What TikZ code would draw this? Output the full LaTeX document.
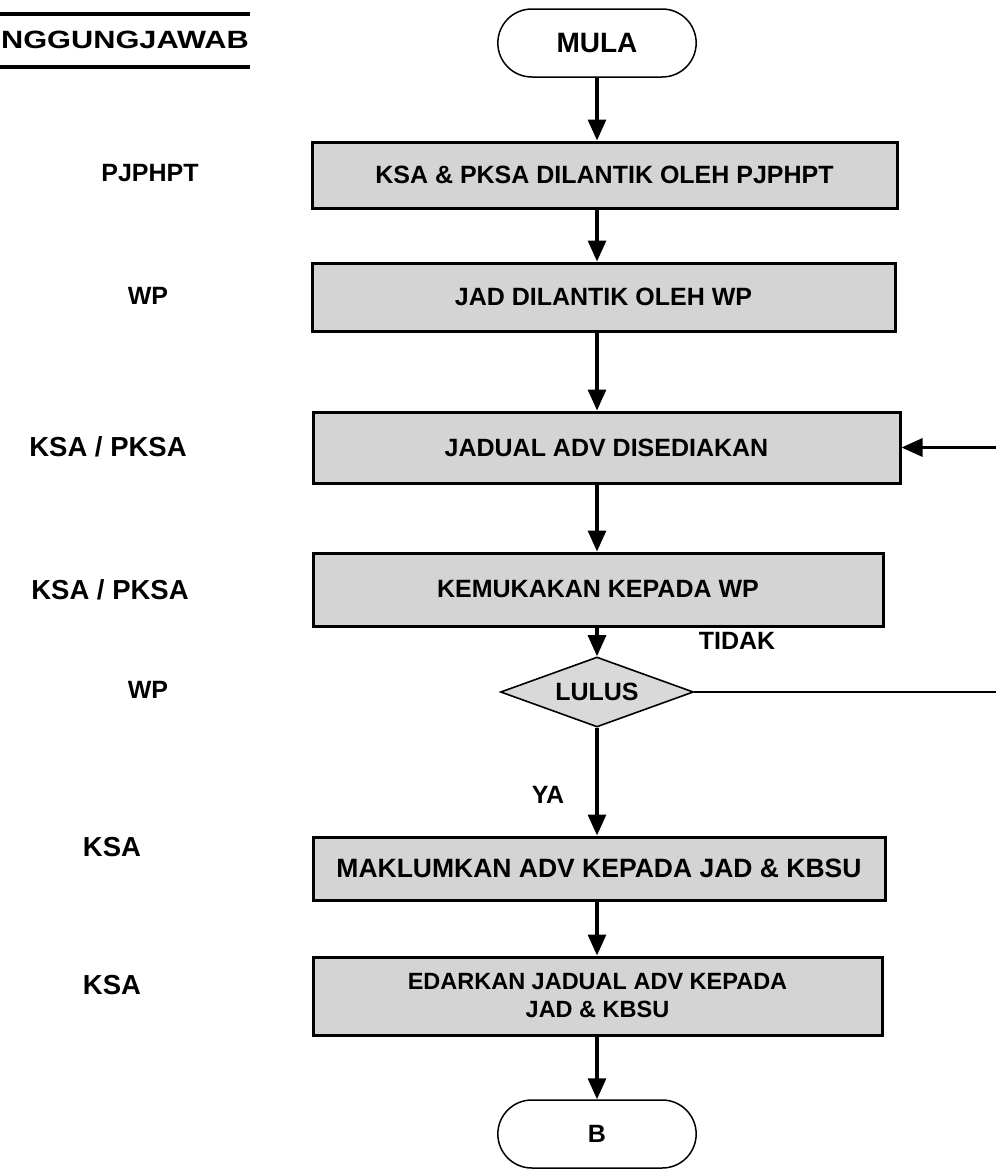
\documentclass[tikz,border=0pt]{standalone}
\usepackage{fontspec}
\setmainfont{Liberation Sans}
\usetikzlibrary{shapes.geometric,shapes.misc,arrows.meta}
\begin{document}
\begin{tikzpicture}[x=1pt,y=-1pt,
  txt/.style={font=\fontsize{25}{29}\selectfont\bfseries},
  bigtxt/.style={font=\fontsize{27.5}{31}\selectfont\bfseries},
  procbox/.style={draw=black, line width=3pt, fill=black!17, inner sep=2pt,
    align=center, font=\fontsize{25}{29}\selectfont\bfseries},
  term/.style={rounded rectangle, draw=black, line width=1.5pt, fill=white,
    minimum width=205pt, minimum height=68pt, font=\fontsize{25}{29}\selectfont\bfseries},
  decision/.style={diamond, draw=black, line width=1.6pt, fill=black!15, inner sep=0pt,
    shape aspect=2.8, minimum width=193pt, minimum height=70pt,
    font=\fontsize{25}{29}\selectfont\bfseries},
  arr/.style={line width=3.2pt, -{Triangle[length=21pt,width=18pt]}},
  plain/.style={line width=2.4pt}
]
\useasboundingbox (0,0) rectangle (996,1175);
\fill[white] (0,0) rectangle (996,1175);

% header
\draw[line width=4pt] (0,14) -- (250,14);
\draw[line width=4pt] (0,67) -- (250,67);
\node[txt, anchor=east, inner sep=0pt] (hdr) at (249,40) {\scalebox{1.23}[1]{NGGUNGJAWAB}};

% responsibility column
\node[txt] (l1) at (150,173) {PJPHPT};
\node[txt] (l2) at (148,296) {WP};
\node[bigtxt] (l3) at (108,447) {KSA / PKSA};
\node[bigtxt] (l4) at (110,590) {KSA / PKSA};
\node[txt] (l5) at (148,690) {WP};
\node[bigtxt] (l6) at (112,847) {KSA};
\node[bigtxt] (l7) at (112,985) {KSA};

% flow
\node[term, font=\fontsize{28}{31}\selectfont\bfseries] (mula) at (597,43) {MULA};
\node[procbox, minimum width=585pt, minimum height=66pt] (b1) at (604.5,175) {KSA \& PKSA DILANTIK OLEH PJPHPT};
\node[procbox, minimum width=583pt, minimum height=68pt] (b2) at (603.5,297) {JAD DILANTIK OLEH WP};
\node[procbox, minimum width=587pt, minimum height=71pt] (b3) at (606.5,447.5) {JADUAL ADV DISEDIAKAN};
\node[procbox, minimum width=570pt, minimum height=73pt] (b4) at (598,589.5) {KEMUKAKAN KEPADA WP};
\node[decision] (dia) at (597,692) {LULUS};
\node[procbox, minimum width=572pt, minimum height=63pt, font=\fontsize{26.5}{30}\selectfont\bfseries] (b5) at (599,868.5) {MAKLUMKAN ADV KEPADA JAD \& KBSU};
\node[procbox, minimum width=569pt, minimum height=78pt, font=\fontsize{23.5}{28}\selectfont\bfseries] (b6) at (597.5,996) {EDARKAN JADUAL ADV KEPADA\\JAD \& KBSU};
\node[term] (bterm) at (597,1134) {B};

\node[txt] (tidak) at (737,641) {TIDAK};
\node[txt] (ya) at (548,795) {YA};

\coordinate (r1) at (996,692);
\coordinate (r2) at (996,447.5);

\draw[arr] (mula.south) -- (mula.south |- b1.north);
\draw[arr] (mula.south |- b1.south) -- (mula.south |- b2.north);
\draw[arr] (mula.south |- b2.south) -- (mula.south |- b3.north);
\draw[arr] (mula.south |- b3.south) -- (mula.south |- b4.north);
\draw[arr] (mula.south |- b4.south) -- (dia.north);
\draw[arr] (dia.south) -- (dia.south |- b5.north);
\draw[arr] (dia.south |- b5.south) -- (dia.south |- b6.north);
\draw[arr] (dia.south |- b6.south) -- (bterm.north);
\draw[plain] (dia.east) -- (r1);
\draw[arr] (r2) -- (b3.east);
\end{tikzpicture}
\end{document}
